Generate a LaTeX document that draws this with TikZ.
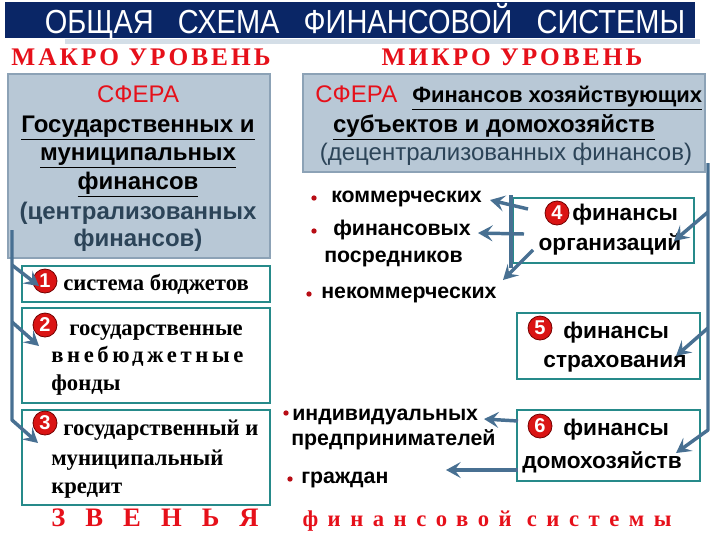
\documentclass[tikz,border=0pt]{standalone}
\usepackage{fontspec}
\setmainfont{Liberation Serif}
\setsansfont{Liberation Sans}
\newfontfamily\levelfont[LetterSpace=12]{Liberation Serif}
\newfontfamily\wideserif[LetterSpace=42]{Liberation Serif}
\newfontfamily\boxserif[LetterSpace=16]{Liberation Serif}
\usetikzlibrary{arrows.meta}

\definecolor{titleblue}{RGB}{10,38,102}
\definecolor{levelred}{RGB}{230,16,26}
\definecolor{boxteal}{RGB}{38,138,138}
\definecolor{arrowblue}{RGB}{72,112,146}
\definecolor{sphfill}{RGB}{184,200,214}
\definecolor{sphdraw}{RGB}{140,162,182}
\definecolor{slate}{RGB}{44,68,88}
\definecolor{numred}{RGB}{218,20,20}

\begin{document}
\begin{tikzpicture}[x=0.75pt,y=0.75pt,yscale=-1,xscale=1,
  sphere/.style={draw=sphdraw,fill=sphfill,line width=1pt},
  linkbox/.style={draw=boxteal,line width=2.2pt},
  flow/.style={draw=arrowblue,line width=2.6pt,line join=round,-{Stealth[length=11pt,width=12pt,inset=4.5pt]}},
  trunk/.style={draw=arrowblue,line width=2.6pt},
  numdot/.style={circle,fill=numred,draw=red!45!black,line width=0.6pt,inner sep=0pt,minimum size=18pt,text=white,font=\sffamily\bfseries\fontsize{15}{15}\selectfont},
  bulletdot/.style={circle,fill=levelred!80!black,inner sep=0pt,minimum size=4pt},
  txt/.style={inner sep=0.75pt,text height=1em,text depth=0.15em},
  redsans/.style={txt,text=levelred,font=\sffamily\fontsize{18}{20}\selectfont},
  boldsans/.style={txt,font=\sffamily\bfseries\fontsize{18}{20}\selectfont},
  slatesans/.style={txt,text=slate,font=\sffamily\bfseries\fontsize{18}{20}\selectfont},
  serifbox/.style={txt,font=\bfseries\fontsize{17}{18}\selectfont},
  midsans/.style={txt,font=\sffamily\bfseries\fontsize{16}{18}\selectfont},
  finsans/.style={txt,font=\sffamily\bfseries\fontsize{17}{19}\selectfont}
]
\useasboundingbox (0,0) rectangle (720,540);

%Shape: Rectangle (title bar)
\fill [titleblue] (5,2) rectangle (695,38);
\fill [sphfill!60] (65,39) rectangle (700,44);
% Text Node
\draw (365,33) node (title) [inner sep=0pt,anchor=base,text=white,font=\sffamily\fontsize{25}{26}\selectfont] {\scalebox{0.87}[1]{ОБЩАЯ\ \ \ СХЕМА\ \ \ ФИНАНСОВОЙ\ \ \ СИСТЕМЫ}};

% Text Node
\draw (141,60) node (macro) [txt,text=levelred,font=\levelfont\bfseries\fontsize{19}{20}\selectfont] {МАКРО УРОВЕНЬ};
% Text Node
\draw (512,60) node (micro) [txt,text=levelred,font=\levelfont\bfseries\fontsize{19}{20}\selectfont] {МИКРО УРОВЕНЬ};

%Shape: Rectangle (macro sphere)
\draw [sphere] (8,74) rectangle (270,258);
%Shape: Rectangle (micro sphere)
\draw [sphere] (303,74) rectangle (705,172);

% Text Node
\draw (138,97) node (sphL) [redsans] {СФЕРА};
\draw (138,127) node (stateA) [boldsans] {\underline{Государственных и}};
\draw (138,155) node (stateB) [boldsans] {\underline{муниципальных}};
\draw (138,184) node (stateC) [boldsans] {\underline{финансов}};
\draw (138,214) node (centrA) [slatesans] {(централизованных};
\draw (138,241) node (centrB) [slatesans] {финансов)};

% Text Node
\draw (314,97) node (sphR) [redsans,anchor=west] {СФЕРА};
\draw (411,97) node (firmA) [boldsans,anchor=west,font=\sffamily\bfseries\fontsize{16.5}{18}\selectfont] {\underline{Финансов хозяйствующих}};
\draw (494,127) node (firmB) [boldsans] {\underline{субъектов и домохозяйств}};
\draw (506,155) node (decentr) [slatesans,font=\sffamily\fontsize{18}{20}\selectfont] {(децентрализованных финансов)};

%Shape: Rectangle (links)
\draw [linkbox] (22,266) rectangle (270,302);
\draw [linkbox] (22,308) rectangle (270,403);
\draw [linkbox] (22,410) rectangle (270,505);

\draw (45,281) node (n1) [numdot] {1};
\draw (62,285) node (budget) [serifbox,anchor=west] {система бюджетов};
\draw (45,325) node (n2) [numdot] {2};
\draw (68,330) node (fundA) [serifbox,anchor=west] {государственные};
\draw (50,357) node (fundB) [serifbox,anchor=west,font=\boxserif\bfseries\fontsize{17}{18}\selectfont] {внебюджетные};
\draw (50,385) node (fundC) [serifbox,anchor=west] {фонды};
\draw (45,423) node (n3) [numdot] {3};
\draw (62,430) node (creditA) [serifbox,anchor=west] {государственный и};
\draw (50,460) node (creditB) [serifbox,anchor=west] {муниципальный};
\draw (50,488) node (creditC) [serifbox,anchor=west] {кредит};

% Text Node
\draw (155,521) node (links) [txt,text=levelred,font=\bfseries\fontsize{20}{20}\selectfont] {З\ \ \ В\ \ \ Е\ \ \ Н\ \ \ Ь\ \ \ Я};
\draw (487,521) node (system) [txt,text=levelred,font=\wideserif\bfseries\fontsize{17}{20}\selectfont] {финансовой системы};

% bullets
\draw (314,198) node (b1) [bulletdot] {};
\draw (330,197) node (comm) [midsans,anchor=west] {коммерческих};
\draw (314,231) node (b2) [bulletdot] {};
\draw (332,230) node (intermA) [midsans,anchor=west] {финансовых};
\draw (323,257) node (intermB) [midsans,anchor=west] {посредников};
\draw (309,294) node (b3) [bulletdot] {};
\draw (320,293) node (noncomm) [midsans,anchor=west] {некоммерческих};
\draw (286,413) node (b4) [bulletdot] {};
\draw (291,415) node (entrA) [midsans,anchor=west] {индивидуальных};
\draw (290,440) node (entrB) [midsans,anchor=west] {предпринимателей};
\draw (290,479) node (b5) [bulletdot] {};
\draw (300,478) node (citiz) [midsans,anchor=west] {граждан};

%Shape: Rectangle (micro boxes)
\draw [linkbox] (513,198) rectangle (694,263);
\draw [linkbox] (517,313) rectangle (700,379);
\draw [linkbox] (517,410) rectangle (700,481);

\draw (557,213) node (n4) [numdot] {4};
\draw (571,215) node (orgA) [finsans,anchor=west] {финансы};
\draw (610,245) node (orgB) [finsans] {организаций};
\draw (540,328) node (n5) [numdot] {5};
\draw (562,333) node (insA) [finsans,anchor=west] {финансы};
\draw (615,362) node (insB) [finsans] {страхования};
\draw (540,426) node (n6) [numdot] {6};
\draw (562,430) node (homeA) [finsans,anchor=west] {финансы};
\draw (602,463) node (homeB) [finsans] {домохозяйств};

% left trunk
\coordinate (lt0) at (12,230);
\coordinate (lt1) at (12,265);
\coordinate (lt2) at (12,322);
\coordinate (lt3) at (12,420);
\coordinate (ab1) at (39,286);
\coordinate (ab2) at (39,346);
\coordinate (ab3) at (38,443);
\draw [flow] (lt0) -- (lt3) -- (ab3);
\draw [flow] (lt1) -- (ab1);
\draw [flow] (lt2) -- (ab2);

% right trunk
\coordinate (rt0) at (708,163);
\coordinate (rt1) at (708,212);
\coordinate (rt2) at (708,328);
\coordinate (rt3) at (708,430);
\coordinate (ar4) at (674,241);
\coordinate (ar5) at (676,356);
\coordinate (ar6) at (676,453);
\draw [flow] (rt0) -- (rt3) -- (ar6);
\draw [flow] (rt1) -- (ar4);
\draw [flow] (rt2) -- (ar5);

% organisation arrows
\coordinate (ot0) at (511,195);
\coordinate (ot1) at (511,268);
\draw [trunk] (ot0) -- (ot1);
\coordinate (os1) at (528,209);
\coordinate (os2) at (524,234);
\coordinate (os3) at (533,250);
\coordinate (oe1) at (490,200);
\coordinate (oe2) at (478,233);
\coordinate (oe3) at (503,280);
\draw [flow] (os1) -- (oe1);
\draw [flow] (os2) -- (oe2);
\draw [flow] (os3) -- (oe3);

% household arrows
\coordinate (hs1) at (518,421);
\coordinate (hs2) at (518,470);
\coordinate (he1) at (484,419);
\coordinate (he2) at (446,470);
\draw [flow] (hs1) -- (he1);
\draw [flow] (hs2) -- (he2);
\end{tikzpicture}
\end{document}
